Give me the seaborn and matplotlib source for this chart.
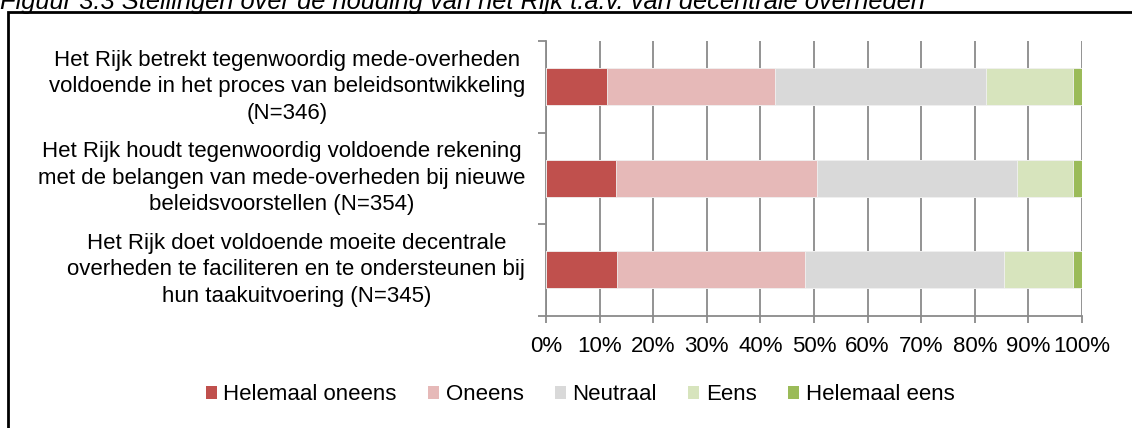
import numpy as np
import pandas as pd
import seaborn as sns
import matplotlib.pyplot as plt
from matplotlib.patches import Patch, Rectangle

statements = [
    "Het Rijk betrekt tegenwoordig mede-overheden\nvoldoende in het proces van beleidsontwikkeling\n(N=346)",
    "Het Rijk houdt tegenwoordig voldoende rekening\nmet de belangen van mede-overheden bij nieuwe\nbeleidsvoorstellen (N=354)",
    "Het Rijk doet voldoende moeite decentrale\noverheden te faciliteren en te ondersteunen bij\nhun taakuitvoering (N=345)",
]
categories = ["Helemaal oneens", "Oneens", "Neutraal", "Eens", "Helemaal eens"]
helemaal_oneens = [11.4, 13.1, 13.2]
oneens = [31.3, 37.4, 35.1]
neutraal = [39.3, 37.4, 37.2]
eens = [16.3, 10.5, 12.8]
helemaal_eens = [1.7, 1.6, 1.7]
colors = ["#C0504D", "#E6B9B8", "#D9D9D9", "#D7E4BD", "#9BBB59"]
xticks = list(range(0, 101, 10))

sns.set_style("white")
plt.rcParams["font.family"] = ["Liberation Sans", "DejaVu Sans"]
plt.rcParams["text.color"] = "black"
plt.rcParams["xtick.labelcolor"] = "black"
plt.rcParams["ytick.labelcolor"] = "black"

df = pd.DataFrame({"statement": statements,
                   "Helemaal oneens": helemaal_oneens, "Oneens": oneens,
                   "Neutraal": neutraal, "Eens": eens, "Helemaal eens": helemaal_eens})
cum = df[categories].cumsum(axis=1)

fig = plt.figure(figsize=(11.32, 4.28), dpi=100)
ax = fig.add_axes([546 / 1132, 1 - 315.5 / 428, 536 / 1132, 274.5 / 428])

# stacked bars: draw the longest cumulative layer first
for cat, col in reversed(list(zip(categories, colors))):
    sns.barplot(x=cum[cat], y=df["statement"], orient="h", color=col,
                width=0.4, saturation=1, edgecolor="#f2f2f2", linewidth=0.6,
                ax=ax, zorder=3)

ax.set_xlim(0, 100)
ax.set_ylim(2.5, -0.5)
ax.set_xticks(xticks)
ax.set_xticklabels([f"{t}%" for t in xticks], fontsize=16, color="black")
ax.xaxis.grid(True, color="#8a8a8a", linewidth=1.3, zorder=0)
ax.set_axisbelow(True)
ax.set_xlabel("")
ax.set_ylabel("")
ax.tick_params(axis="x", length=5, width=1.3, color="#8a8a8a", pad=10, bottom=True)
ax.tick_params(axis="y", which="major", length=0, pad=15)
ax.set_yticks([-0.5, 0.5, 1.5, 2.5], minor=True)
ax.tick_params(axis="y", which="minor", length=5.5, width=1.3, color="#8a8a8a", left=True)
for lab in ax.get_yticklabels():
    lab.set_fontsize(16)
    lab.set_color("black")
    lab.set_multialignment("center")
    lab.set_linespacing(1.34)
    lab.set_verticalalignment("center")
for s in ["top", "right"]:
    ax.spines[s].set_visible(False)
for s in ["left", "bottom"]:
    ax.spines[s].set_color("#8a8a8a")
    ax.spines[s].set_linewidth(1.3)

handles = [Patch(facecolor=c, edgecolor="none") for c in colors]
fig.legend(handles, categories, loc="center", bbox_to_anchor=(580 / 1132, 1 - 395 / 428),
           ncol=5, frameon=False, handlelength=0.5, handleheight=0.5,
           handletextpad=0.3, columnspacing=1.4, prop={"size": 16})

fig.text(0, 1 - 9 / 428, "Figuur 3.3 Stellingen over de houding van het Rijk t.a.v. van decentrale overheden",
         fontsize=18.4, style="italic", va="baseline", ha="left", color="black")
fig.patches.append(Rectangle((8 / 1132, -0.1), 1.2, 1 - 12 / 428 + 0.1, transform=fig.transFigure,
                             fill=False, edgecolor="black", linewidth=2))

fig.savefig("out.png", dpi=100)
